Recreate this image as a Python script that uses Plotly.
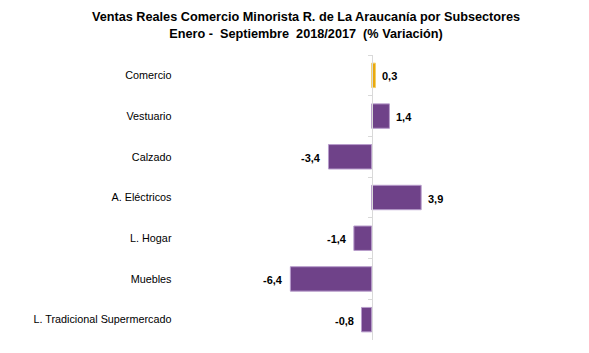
import plotly.graph_objects as go

categories = ["Comercio", "Vestuario", "Calzado", "A. Eléctricos", "L. Hogar", "Muebles",
              "L. Tradicional Supermercado"]
values = [0.3, 1.4, -3.4, 3.9, -1.4, -6.4, -0.8]
labels = ["0,3", "1,4", "-3,4", "3,9", "-1,4", "-6,4", "-0,8"]

colors = ["#e8a80c" if c == "Comercio" else "#6f4289" for c in categories]
lines = ["#f3cf6a" if c == "Comercio" else "#b79ccb" for c in categories]

FONT = "Liberation Sans, Arial, sans-serif"
xmin, xmax = -15.09, 14.83

fig = go.Figure()
fig.add_trace(go.Bar(
    x=values, y=categories, orientation="h", width=0.6,
    marker=dict(color=colors, line=dict(color=lines, width=1)),
    hoverinfo="skip",
))

for c, v, t in zip(categories, values, labels):
    fig.add_annotation(
        x=v, y=c, xref="x", yref="y", text="<b>%s</b>" % t, showarrow=False,
        xanchor="left" if v >= 0 else "right", xshift=5 if v >= 0 else -5,
        yshift=-1,
        font=dict(family=FONT, size=11, color="#000000"),
    )

fig.update_layout(
    width=589, height=353,
    margin=dict(l=180, r=29, t=55, b=13),
    paper_bgcolor="white", plot_bgcolor="white",
    showlegend=False,
    title=dict(
        text="<b>Ventas Reales Comercio Minorista R. de La Araucanía por Subsectores<br>"
             "Enero -  Septiembre  2018/2017  (% Variación)</b>",
        x=306 / 589, xanchor="center", xref="container",
        y=1 - 21 / 353, yanchor="top", yref="container",
        font=dict(family=FONT, size=12.7, color="#000000"),
    ),
    xaxis=dict(range=[xmin, xmax], showgrid=False, zeroline=False,
               showticklabels=False, ticks="", showline=False, fixedrange=True),
    yaxis=dict(
        categoryorder="array", categoryarray=categories, autorange="reversed",
        anchor="free", position=(0 - xmin) / (xmax - xmin),
        showline=True, linecolor="#d9d9d9", linewidth=1,
        ticks="outside", tickson="boundaries", ticklen=4, tickcolor="#d9d9d9",
        ticklabelstandoff=198,
        tickfont=dict(family=FONT, size=10.8, color="#000000"),
        showgrid=False, zeroline=False,
    ),
)

fig.write_html("out.html")
